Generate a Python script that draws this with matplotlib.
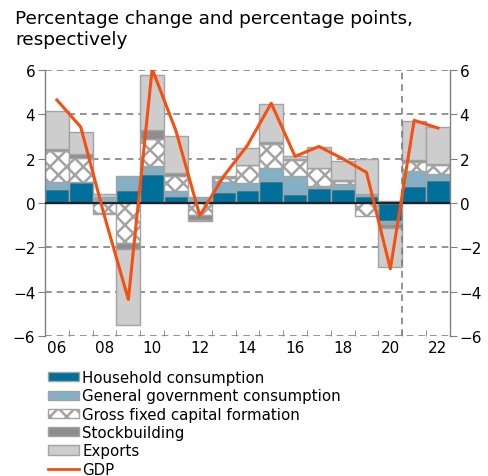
import numpy as np
import matplotlib
matplotlib.use("Agg")
import matplotlib.pyplot as plt
from matplotlib.patches import Patch
from matplotlib.lines import Line2D

# Years and contributions (percentage points)
years = np.arange(2006, 2023)
household = [0.63, 0.93, 0.0, 0.6, 1.33, 0.33, 0.0, 0.51, 0.6, 1.0, 0.42, 0.66, 0.63, 0.33, -0.8, 0.75, 1.05]
government = [0.33, 0.0, 0.27, 0.6, 0.35, 0.2, 0.27, 0.42, 0.28, 0.56, 0.81, 0.12, 0.21, 0.07, -0.15, 0.71, 0.26]
gfcf = [1.4, 1.12, -0.45, -1.82, 1.2, 0.7, -0.53, 0.18, 0.82, 1.09, 0.7, 0.82, 0.13, -0.57, 0.1, 0.4, 0.42]
stockbuilding = [0.07, 0.15, -0.06, -0.25, 0.4, 0.12, -0.22, 0.08, 0.0, 0.08, 0.05, 0.0, 0.05, 0.0, -0.2, 0.07, 0.05]
exports = [1.73, 1.0, 0.13, -3.45, 2.48, 1.68, -0.05, 0.03, 0.8, 1.75, 0.15, 0.93, 0.88, 1.58, -1.75, 1.75, 1.64]
gdp = [4.65, 3.43, -0.6, -4.35, 6.05, 3.25, -0.57, 1.2, 2.6, 4.5, 2.1, 2.55, 2.0, 1.38, -2.97, 3.73, 3.38]

labels = ["Household consumption", "General government consumption",
          "Gross fixed capital formation", "Stockbuilding", "Exports"]
colors = ["#00709a", "#84b0c6", "white", "#8e8e8e", "#cdcdcd"]
hatches = [None, None, "xx", None, None]
edge = "#a3a3a3"

plt.rcParams["font.family"] = "DejaVu Sans"
plt.rcParams["hatch.linewidth"] = 1.8

fig = plt.figure(figsize=(4.89, 4.77), dpi=100)
ax = fig.add_axes([0.092, 0.2935, 0.828, 0.5577])

pos_bottom = np.zeros(len(years))
neg_bottom = np.zeros(len(years))
for vals, col, hat in zip([household, government, gfcf, stockbuilding, exports], colors, hatches):
    v = np.array(vals)
    bottom = np.where(v >= 0, pos_bottom, neg_bottom)
    ax.bar(years, v, bottom=bottom, width=1.0, color=col, edgecolor=edge,
           linewidth=1.0, hatch=hat, zorder=2)
    pos_bottom += np.where(v >= 0, v, 0)
    neg_bottom += np.where(v < 0, v, 0)

ax.plot(years, gdp, color="#f5500f", linewidth=2.2, zorder=4)

ax.set_xlim(2005.5, 2022.5)
ax.set_ylim(-6, 6)
for y in [-6, -4, -2, 2, 4, 6]:
    ax.axhline(y, color="#808080", linestyle=(0, (4, 3)), linewidth=1.2, zorder=1)
ax.axhline(0, color="#222222", linewidth=1.6, zorder=3)
ax.axvline(2020.5, color="#808080", linestyle=(0, (4, 3)), linewidth=1.2, zorder=3)

for s in ["top", "bottom"]:
    ax.spines[s].set_visible(False)
for s in ["left", "right"]:
    ax.spines[s].set_color("#808080")
    ax.spines[s].set_linewidth(1.0)

ax.set_yticks(np.arange(-6, 7, 2))
ax.tick_params(axis="y", which="both", left=True, right=True, labelleft=True,
               labelright=True, labelsize=11, color="#808080", length=5, pad=2)
even = years[years % 2 == 0]
ax.set_xticks(even)
ax.set_xticklabels([f"{y % 100:02d}" for y in even])
ax.set_xticks(np.arange(2005.5, 2023, 1.0), minor=True)
ax.tick_params(axis="x", which="major", length=0, labelsize=11, pad=3)
ax.tick_params(axis="x", which="minor", direction="in", length=4, color="#808080")

fig.text(0.031, 0.979, "Percentage change and percentage points,\nrespectively",
         fontsize=13.3, va="top", ha="left", linespacing=1.2)

handles = [Patch(facecolor=c, edgecolor=edge, hatch=h) for c, h in zip(colors, hatches)]
handles.append(Line2D([0], [0], color="#f5500f", linewidth=2))
fig.legend(handles, labels + ["GDP"], loc="upper left", bbox_to_anchor=(0.098, 0.222),
           frameon=False, fontsize=10.8, handlelength=2.1, handleheight=0.55,
           handletextpad=0.2, labelspacing=0.22, borderpad=0, borderaxespad=0)

fig.savefig("out.png", dpi=100)
